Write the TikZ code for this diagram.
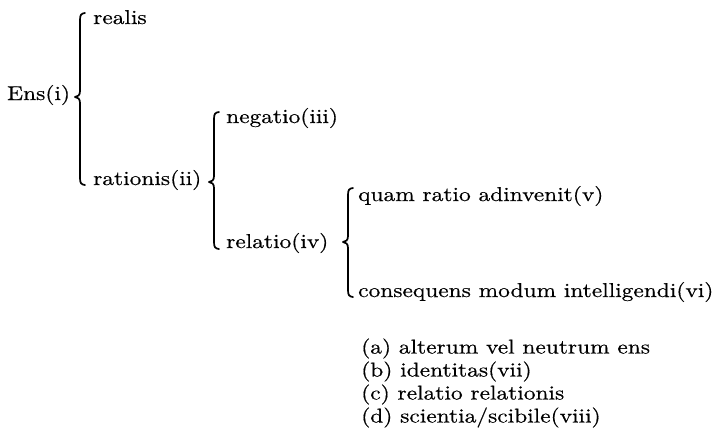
\documentclass[tikz,border=0pt]{standalone}
\usepackage{fontspec}
\setmainfont{lmroman10-regular}[Extension=.otf,FakeStretch=1.17,FakeBold=0.5]
\newcommand{\mybrace}[4]{% #1 x, #2 top, #3 cusp, #4 bottom
\draw[brace] ({#1+5},#2) .. controls ({#1+1},{#2+0.5}) and (#1,{#2+2}) .. (#1,{#2+7})
  -- (#1,{#3-6}) .. controls (#1,{#3-2}) and ({#1-2},#3) .. ({#1-5},#3)
  .. controls ({#1-2},#3) and (#1,{#3+2}) .. (#1,{#3+6})
  -- (#1,{#4-7}) .. controls (#1,{#4-2}) and ({#1+1},{#4-0.5}) .. ({#1+5},#4);}
\begin{document}
\begin{tikzpicture}[x=1pt,y=-1pt,
  lbl/.style={anchor=base west, inner sep=0pt, font=\fontsize{20}{23}\selectfont},
  brace/.style={line width=1.7pt, line cap=round, line join=round}]
\useasboundingbox (0,0) rectangle (714,434);
\node[lbl] (ens) at (7,100) {Ens(i)};
\node[lbl] (realis) at (93,24) {realis};
\node[lbl] (rationis) at (93,185) {rationis(ii)};
\node[lbl] (negatio) at (226,123) {negatio(iii)};
\node[lbl] (relatio) at (226,248) {relatio(iv)};
\node[lbl] (quam) at (358,201) {quam ratio adinvenit(v)};
\node[lbl] (conseq) at (358,297) {consequens modum intelligendi(vi)};
\node[lbl] (la) at (361,353.5) {(a) alterum vel neutrum ens};
\node[lbl] (lb) at (361,376.5) {(b) identitas(vii)};
\node[lbl] (lc) at (361,399.5) {(c) relatio relationis};
\node[lbl] (ld) at (361,422.5) {(d) scientia/scibile(viii)};
\mybrace{80}{13}{97}{185}
\mybrace{214}{112}{182}{249}
\mybrace{348}{188}{242}{297}
\end{tikzpicture}
\end{document}
